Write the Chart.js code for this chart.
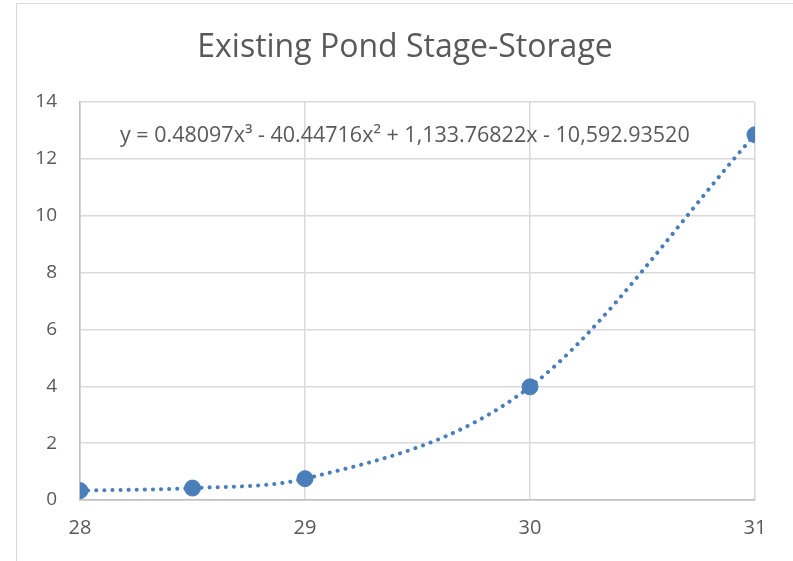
<!DOCTYPE html>
<html>
<head>
<meta charset="utf-8">
<script src="https://cdn.jsdelivr.net/npm/chart.js@4"></script>
<style>
  html, body { margin: 0; padding: 0; background: #fff; overflow: hidden; }
  #frame { position: absolute; left: 16px; top: 3px; width: 820px; height: 600px; border: 1px solid #d9d9d9; }
  #wrap { position: absolute; left: 0; top: 0; width: 793px; height: 561px; }
</style>
</head>
<body>
<div id="frame"></div>
<div id="wrap"><canvas id="chart"></canvas></div>
<script>
// stage (ft) vs storage
const stage = [28, 28.5, 29, 30, 31];
const storage = [0.33, 0.42, 0.75, 3.98, 12.85];
const xTicks = [28, 29, 30, 31];
const yTicks = [0, 2, 4, 6, 8, 10, 12, 14];
const chartTitle = "Existing Pond Stage-Storage";
const equation = "y = 0.48097x\u00B3 - 40.44716x\u00B2 + 1,133.76822x - 10,592.93520";

const blue = "#4a7ebb";
const grey = "#595959";

// title and trendline equation drawn as text on the canvas
const labelsPlugin = {
  id: "labels",
  afterDraw(chart) {
    const ctx = chart.ctx;
    const area = chart.chartArea;
    ctx.save();
    ctx.fillStyle = grey;
    ctx.textBaseline = "middle";
    ctx.textAlign = "center";
    ctx.font = "32px 'Open Sans'";
    ctx.fillText(chartTitle, 405, 48);
    ctx.textAlign = "left";
    ctx.font = "21.5px 'Open Sans'";
    ctx.fillText(equation, area.left + 40, area.top + 34);
    ctx.restore();
  }
};

new Chart(document.getElementById("chart"), {
  type: "scatter",
  data: {
    datasets: [
      {
        label: "trend",
        data: stage.map((x, i) => ({ x: x, y: storage[i] })),
        showLine: true,
        cubicInterpolationMode: "monotone",
        borderColor: blue,
        borderWidth: 4,
        borderDash: [0.1, 8],
        borderCapStyle: "round",
        pointRadius: 0,
        order: 2
      },
      {
        label: "Storage",
        data: stage.map((x, i) => ({ x: x, y: storage[i] })),
        showLine: false,
        pointRadius: 8,
        pointBackgroundColor: blue,
        pointBorderColor: blue,
        order: 1
      }
    ]
  },
  options: {
    responsive: true,
    maintainAspectRatio: false,
    animation: false,
    layout: { padding: { top: 102, right: 38, left: 0, bottom: 0 } },
    plugins: {
      legend: { display: false },
      tooltip: { enabled: false }
    },
    scales: {
      x: {
        type: "linear",
        min: 28,
        max: 31,
        afterBuildTicks: (s) => { s.ticks = xTicks.map((v) => ({ value: v })); },
        afterFit: (s) => { s.height = 61; },
        ticks: { color: grey, font: { family: "'Open Sans'", size: 20 }, padding: 16 },
        grid: { color: "#d9d9d9", lineWidth: 1.5, drawTicks: false },
        border: { color: "#bfbfbf", width: 1.5 }
      },
      y: {
        min: 0,
        max: 14,
        afterBuildTicks: (s) => { s.ticks = yTicks.map((v) => ({ value: v })); },
        afterFit: (s) => { s.width = 80; },
        ticks: { color: grey, font: { family: "'Open Sans'", size: 19 }, padding: 23 },
        grid: { color: "#d9d9d9", lineWidth: 1.5, drawTicks: false },
        border: { color: "#bfbfbf", width: 1.5 }
      }
    }
  },
  plugins: [labelsPlugin]
});
</script>
</body>
</html>
